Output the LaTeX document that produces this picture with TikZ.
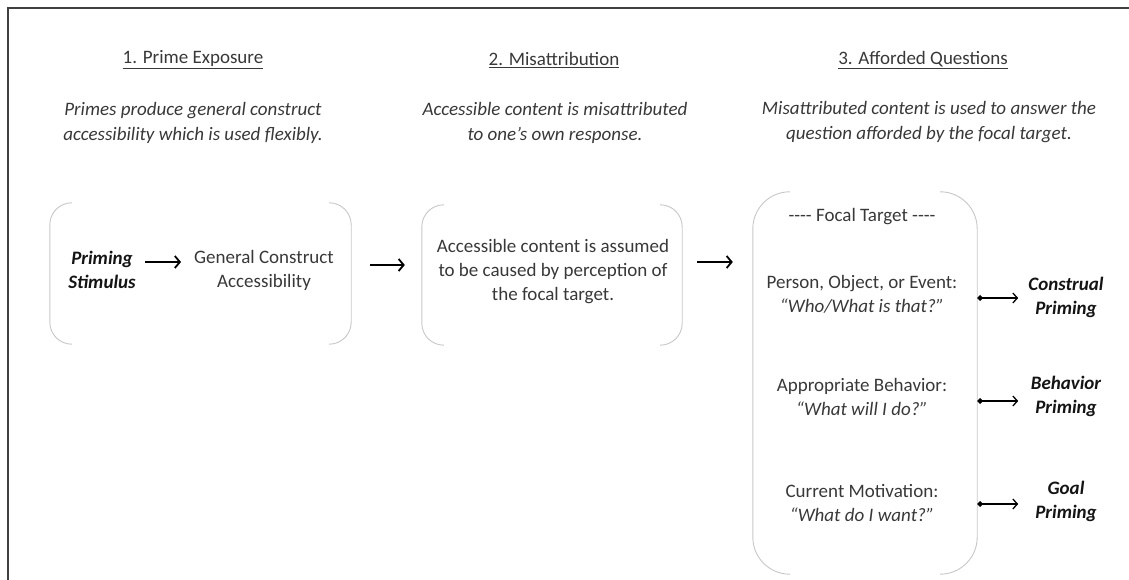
\documentclass[tikz,border=0pt]{standalone}
\usepackage{fontspec}
\setmainfont{Carlito}
\usetikzlibrary{arrows.meta}

\newcommand\bracketpair[2]{%
  \draw[brk] ([xshift=#2pt]#1.north west) arc[start angle=90,end angle=180,radius=#2pt]
    -- ([yshift=#2pt]#1.south west) arc[start angle=180,end angle=270,radius=#2pt];
  \draw[brk] ([xshift=-#2pt]#1.north east) arc[start angle=90,end angle=0,radius=#2pt]
    -- ([yshift=#2pt]#1.south east) arc[start angle=0,end angle=-90,radius=#2pt];
}

\begin{document}
\begin{tikzpicture}[x=1pt,y=1pt,
  txt/.style={inner sep=0pt,align=center,text=black!78,font=\fontsize{19}{24}\selectfont},
  head/.style={txt},
  desc/.style={txt,font=\fontsize{19}{25}\selectfont\itshape},
  lbl/.style={inner sep=0pt,align=center,text=black!92,font=\fontsize{19}{24}\selectfont\bfseries\itshape},
  region/.style={inner sep=0pt,draw=none},
  brk/.style={draw=black!22,line width=0.9pt},
  flow/.style={line width=1.8pt,-{Straight Barb[length=5pt,width=12pt]}},
  link/.style={line width=1.3pt,{Diamond[length=6pt,width=6pt]}-{Straight Barb[length=4.5pt,width=10pt]}},
  frame/.style={draw=black!75,line width=1.5pt}]

\useasboundingbox (0,0) rectangle (1129,580);

% outer frame (left and top edges)
\draw[frame] (8,0) -- (8,572) -- (1129,572);

% column headings
\node[head] (h1) at (193,520) {\underline{1. Prime Exposure}};
\node[head] (h2) at (554,520) {\underline{2. Misattribution}};
\node[head] (h3) at (923,520) {\underline{3. Afforded Questions}};

% column descriptions
\node[desc] (d1) at (193,457.5) {Primes produce general construct\\accessibility which is used flexibly.};
\node[desc] (d2) at (555,457.5) {Accessible content is misattributed\\to one’s own response.};
\node[desc] (d3) at (929,457.5) {Misattributed content is used to answer the\\question afforded by the focal target.};

% stage regions
\node[region,minimum width=301pt,minimum height=141pt] (b1) at (200.5,306.5) {};
\node[region,minimum width=260pt,minimum height=140pt] (b2) at (552,305) {};
\node[region,minimum width=224pt,minimum height=382pt] (b3) at (865,197) {};
\bracketpair{b1}{22}
\bracketpair{b2}{22}
\bracketpair{b3}{37}

% stage 1
\node[lbl] (stim) at (102,310.5) {Priming\\Stimulus};
\node[txt] (gca) at (264,309.5) {General Construct\\Accessibility};
\draw[flow] ([xshift=-49pt]gca.west |- 0,318) -- ([xshift=-13pt]gca.west |- 0,318);

% stage 2
\node[txt] (cause) at (553,308) {Accessible content is assumed\\to be caused by perception of\\the focal target.};
\draw[flow] ([xshift=19pt]b1.east |- 0,315) -- ([xshift=-17pt]b2.west |- 0,315);

% stage 3
\draw[flow] ([xshift=15pt]b2.east |- 0,318) -- ([xshift=-20pt]b3.west |- 0,318);
\node[txt] (ft) at (862,363) {-{}-{}-{}- Focal Target -{}-{}-{}-};
\node[txt] (q1) at (862,285.5) {Person, Object, or Event:\\\textit{“Who/What is that?”}};
\node[txt] (q2) at (862,183.5) {Appropriate Behavior:\\\textit{“What will I do?”}};
\node[txt] (q3) at (862,76.5) {Current Motivation:\\\textit{“What do I want?”}};

\node[lbl] (p1) at (1066,283) {Construal\\Priming};
\node[lbl] (p2) at (1066,184) {Behavior\\Priming};
\node[lbl] (p3) at (1066,78.5) {Goal\\Priming};

\draw[link] (b3.east |- 0,282) -- ([xshift=41pt]b3.east |- 0,282);
\draw[link] (b3.east |- 0,179) -- ([xshift=41pt]b3.east |- 0,179);
\draw[link] (b3.east |- 0,76) -- ([xshift=41pt]b3.east |- 0,76);

\end{tikzpicture}
\end{document}
